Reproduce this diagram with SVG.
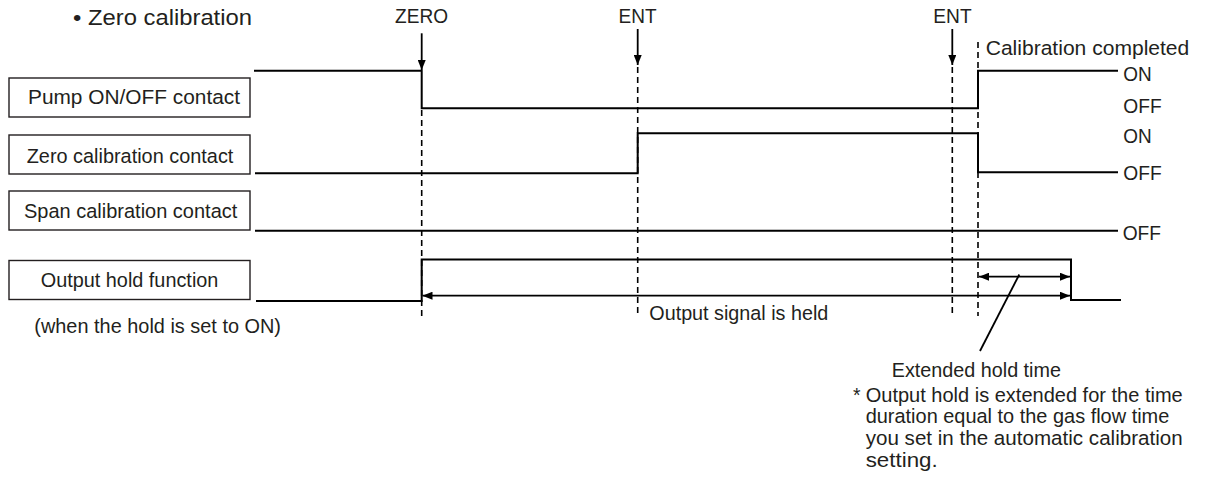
<svg xmlns="http://www.w3.org/2000/svg" width="1210" height="491" viewBox="0 0 1210 491">
  <defs>
    <style>
      text { font-family: "Liberation Sans", Arial, sans-serif; fill: #231f20; }
      .lbl { font-size: 19.3px; }
      .box { fill: #ffffff; stroke: #231f20; stroke-width: 1.4; }
      .sig { fill: none; stroke: #000000; stroke-width: 2; }
      .dash { fill: none; stroke: #000000; stroke-width: 1.6; stroke-dasharray: 6 4; }
      .arr { fill: none; stroke: #000000; stroke-width: 1.8; }
    </style>
    <marker id="head" viewBox="0 0 10 8" refX="10" refY="4" markerWidth="10" markerHeight="8" markerUnits="userSpaceOnUse" orient="auto-start-reverse">
      <path d="M0,0 L10,4 L0,8 Z" fill="#000000"/>
    </marker>
  </defs>

  <text x="73" y="25" font-size="21.5" textLength="179" lengthAdjust="spacingAndGlyphs">• Zero calibration</text>

  <!-- key events -->
  <g id="ev-zero">
    <text class="lbl" x="395" y="22.7" textLength="53" lengthAdjust="spacingAndGlyphs">ZERO</text>
  </g>
  <g id="ev-ent1">
    <text class="lbl" x="618.5" y="22.7" textLength="38" lengthAdjust="spacingAndGlyphs">ENT</text>
  </g>
  <g id="ev-ent2">
    <text class="lbl" x="933.3" y="22.7" textLength="38.3" lengthAdjust="spacingAndGlyphs">ENT</text>
  </g>
  <g id="ev-done">
    <text class="lbl" x="985.7" y="55" textLength="203.6" lengthAdjust="spacingAndGlyphs">Calibration completed</text>
  </g>

  <!-- signal name boxes -->
  <g id="pump">
    <rect class="box" x="9" y="78" width="241" height="39"/>
    <text class="lbl" x="28" y="103.5" textLength="212" lengthAdjust="spacingAndGlyphs">Pump ON/OFF contact</text>
  </g>
  <g id="zero-contact">
    <rect class="box" x="9" y="135" width="241" height="39"/>
    <text class="lbl" x="26.7" y="162.7" textLength="206.7" lengthAdjust="spacingAndGlyphs">Zero calibration contact</text>
  </g>
  <g id="span-contact">
    <rect class="box" x="9" y="191" width="241" height="39"/>
    <text class="lbl" x="24" y="218.3" textLength="213.3" lengthAdjust="spacingAndGlyphs">Span calibration contact</text>
  </g>
  <g id="hold">
    <rect class="box" x="9" y="260.5" width="241" height="39"/>
    <text class="lbl" x="40.7" y="286.7" textLength="177.7" lengthAdjust="spacingAndGlyphs">Output hold function</text>
    <text class="lbl" x="34.3" y="333.3" textLength="246.7" lengthAdjust="spacingAndGlyphs">(when the hold is set to ON)</text>
  </g>

  <!-- state labels -->
  <g id="states">
    <text class="lbl" x="1123.3" y="81" textLength="28.4" lengthAdjust="spacingAndGlyphs">ON</text>
    <text class="lbl" x="1123.3" y="113" textLength="38.4" lengthAdjust="spacingAndGlyphs">OFF</text>
    <text class="lbl" x="1123.3" y="143" textLength="28.4" lengthAdjust="spacingAndGlyphs">ON</text>
    <text class="lbl" x="1123.3" y="180" textLength="38.4" lengthAdjust="spacingAndGlyphs">OFF</text>
    <text class="lbl" x="1122.7" y="240" textLength="38.4" lengthAdjust="spacingAndGlyphs">OFF</text>
  </g>

  <!-- notes -->
  <g id="notes">
    <text class="lbl" x="649.3" y="320" textLength="179" lengthAdjust="spacingAndGlyphs">Output signal is held</text>
    <text class="lbl" x="891.7" y="376.7" textLength="169.3" lengthAdjust="spacingAndGlyphs">Extended hold time</text>
    <text class="lbl" x="853" y="401.7">*</text>
    <text class="lbl" x="865.7" y="401.7" textLength="317" lengthAdjust="spacingAndGlyphs">Output hold is extended for the time</text>
    <text class="lbl" x="865.7" y="423.3" textLength="303.6" lengthAdjust="spacingAndGlyphs">duration equal to the gas flow time</text>
    <text class="lbl" x="865.7" y="445" textLength="317" lengthAdjust="spacingAndGlyphs">you set in the automatic calibration</text>
    <text class="lbl" x="865.7" y="466.7" textLength="72" lengthAdjust="spacingAndGlyphs">setting.</text>
  </g>

  <!-- waveforms, event markers and dimension arrows -->
  <g id="connectors">
    <path class="sig" d="M254,70.7 H421.7 V108.3 H978 V70.7 H1118"/>
    <path class="sig" d="M255,173.3 H637.7 V133.3 H978 V172.3 H1118"/>
    <path class="sig" d="M255,230.7 H1118"/>
    <path class="sig" d="M256,301 H421.7 V259.5 H1071 V300 H1121"/>

    <line class="arr" x1="421.7" y1="33.3" x2="421.7" y2="70" marker-end="url(#head)"/>
    <line class="arr" x1="637.7" y1="29" x2="637.7" y2="65" marker-end="url(#head)"/>
    <line class="arr" x1="952.3" y1="29" x2="952.3" y2="65" marker-end="url(#head)"/>

    <line class="dash" x1="421.7" y1="110" x2="421.7" y2="316"/>
    <line class="dash" x1="637.7" y1="67" x2="637.7" y2="316"/>
    <line class="dash" x1="952.3" y1="67" x2="952.3" y2="316"/>
    <line class="dash" x1="978" y1="42" x2="978" y2="316"/>

    <line class="arr" x1="422.5" y1="295.7" x2="1070" y2="295.7" marker-start="url(#head)" marker-end="url(#head)"/>
    <line class="arr" x1="979" y1="276.7" x2="1070" y2="276.7" marker-start="url(#head)" marker-end="url(#head)"/>
    <line class="arr" x1="1019.3" y1="274.5" x2="980" y2="351"/>
  </g>
</svg>
